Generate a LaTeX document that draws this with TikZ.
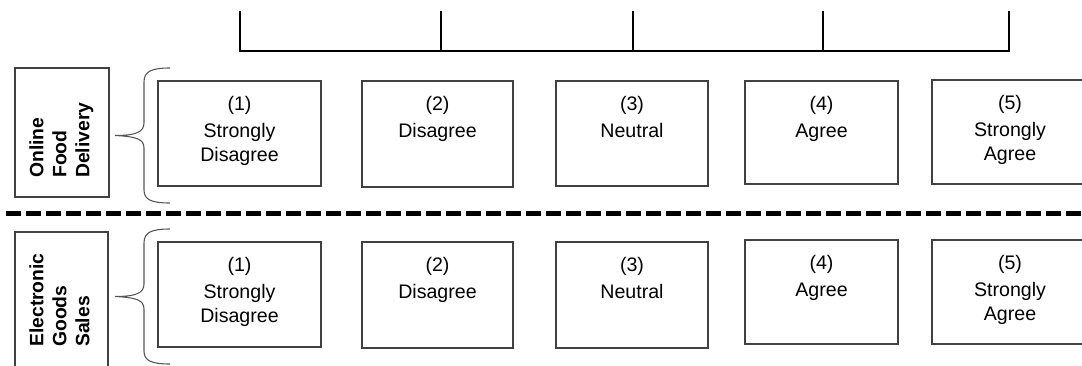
\documentclass[tikz,border=0pt]{standalone}
\usepackage{fontspec}
\setmainfont{Liberation Sans}
\usetikzlibrary{calc}
\definecolor{boxgray}{HTML}{404040}
\definecolor{bracegray}{HTML}{555555}
\begin{document}
\begin{tikzpicture}[x=0.75pt,y=-0.75pt,
  optbox/.style={draw=boxgray, line width=0.8pt, inner sep=0pt},
  opttext/.style={align=center, inner sep=0pt, text=black, anchor=north, font=\fontsize{14.7}{17.6}\selectfont},
  lblbox/.style={draw=boxgray, line width=0.8pt, inner sep=0pt},
  lbltext/.style={align=left, inner sep=0pt, rotate=90, anchor=north west, font=\bfseries\fontsize{14.5}{17.25}\selectfont},
  scaleline/.style={line width=1.9pt, black, line cap=rect},
  sepline/.style={line width=3.4pt, black, dash pattern=on 11pt off 4pt},
  bracestyle/.style={draw=bracegray, line width=0.8pt},
  lbrace/.pic={\draw[bracestyle] (26,0) .. controls (8,0) and (0,3) .. (0,14) -- (0,55) .. controls (0,64) and (-8,67.5) .. (-29,67.5) .. controls (-8,68.5) and (0,71) .. (0,80) -- (0,122) .. controls (0,132) and (8,135) .. (26,135);}
]
\useasboundingbox (0,0) rectangle (1082,365);
\clip (0,0) rectangle (1082,365);

% scale on top
\coordinate (t1) at (240,12);
\coordinate (t2) at (441,12);
\coordinate (t3) at (633,12);
\coordinate (t4) at (823,12);
\coordinate (t5) at (1009,12);
\coordinate (h) at (240,51);
\draw[scaleline] (t1) -- (t1 |- h) -- (t5 |- h) -- (t5);
\draw[scaleline] (t2) -- (t2 |- h);
\draw[scaleline] (t3) -- (t3 |- h);
\draw[scaleline] (t4) -- (t4 |- h);

% row 1
\node[lblbox, minimum width=70.5pt, minimum height=96.75pt] (l1) at (62,132.5) {};
\node[lbltext] (l1t) at (29,178) {Online\\Food\\Delivery};
\pic at (144,68) {lbrace};

\node[optbox, minimum width=122.25pt, minimum height=78.75pt] (a1) at (239.5,133.5) {};
\node[optbox, minimum width=113.25pt, minimum height=79.5pt] (a2) at (437.5,134) {};
\node[optbox, minimum width=114pt, minimum height=78.75pt] (a3) at (632,133.5) {};
\node[optbox, minimum width=114.75pt, minimum height=77.25pt] (a4) at (821.5,132.5) {};
\node[optbox, minimum width=117pt, minimum height=78pt] (a5) at (1010,132) {};
\node[opttext] (a1t) at ($(a1.north)+(0,16)$) {(1)\\[2.6pt]Strongly\\Disagree};
\node[opttext] (a2t) at ($(a2.north)+(0,16)$) {(2)\\[2.6pt]Disagree};
\node[opttext] (a3t) at ($(a3.north)+(0,16)$) {(3)\\[2.6pt]Neutral};
\node[opttext] (a4t) at ($(a4.north)+(0,16)$) {(4)\\[2.6pt]Agree};
\node[opttext] (a5t) at ($(a5.north)+(0,16)$) {(5)\\[2.6pt]Strongly\\Agree};

% separator
\coordinate (dl) at (6,213.5);
\coordinate (dr) at (1082,213.5);
\draw[sepline] (dl) -- (dr);

% row 2
\node[lblbox, minimum width=69.75pt, minimum height=108pt] (l2) at (61.5,304) {};
\node[lbltext] (l2t) at (29,347) {Electronic\\Goods\\Sales};
\pic at (144,229) {lbrace};

\node[optbox, minimum width=122.25pt, minimum height=78.75pt] (b1) at (239.5,294.5) {};
\node[optbox, minimum width=113.25pt, minimum height=79.5pt] (b2) at (437.5,295) {};
\node[optbox, minimum width=114pt, minimum height=79.5pt] (b3) at (632,295) {};
\node[optbox, minimum width=114.75pt, minimum height=78pt] (b4) at (821.5,292) {};
\node[optbox, minimum width=117pt, minimum height=78pt] (b5) at (1010,292) {};
\node[opttext] (b1t) at ($(b1.north)+(0,16)$) {(1)\\[2.6pt]Strongly\\Disagree};
\node[opttext] (b2t) at ($(b2.north)+(0,16)$) {(2)\\[2.6pt]Disagree};
\node[opttext] (b3t) at ($(b3.north)+(0,16)$) {(3)\\[2.6pt]Neutral};
\node[opttext] (b4t) at ($(b4.north)+(0,16)$) {(4)\\[2.6pt]Agree};
\node[opttext] (b5t) at ($(b5.north)+(0,16)$) {(5)\\[2.6pt]Strongly\\Agree};
\end{tikzpicture}
\end{document}
